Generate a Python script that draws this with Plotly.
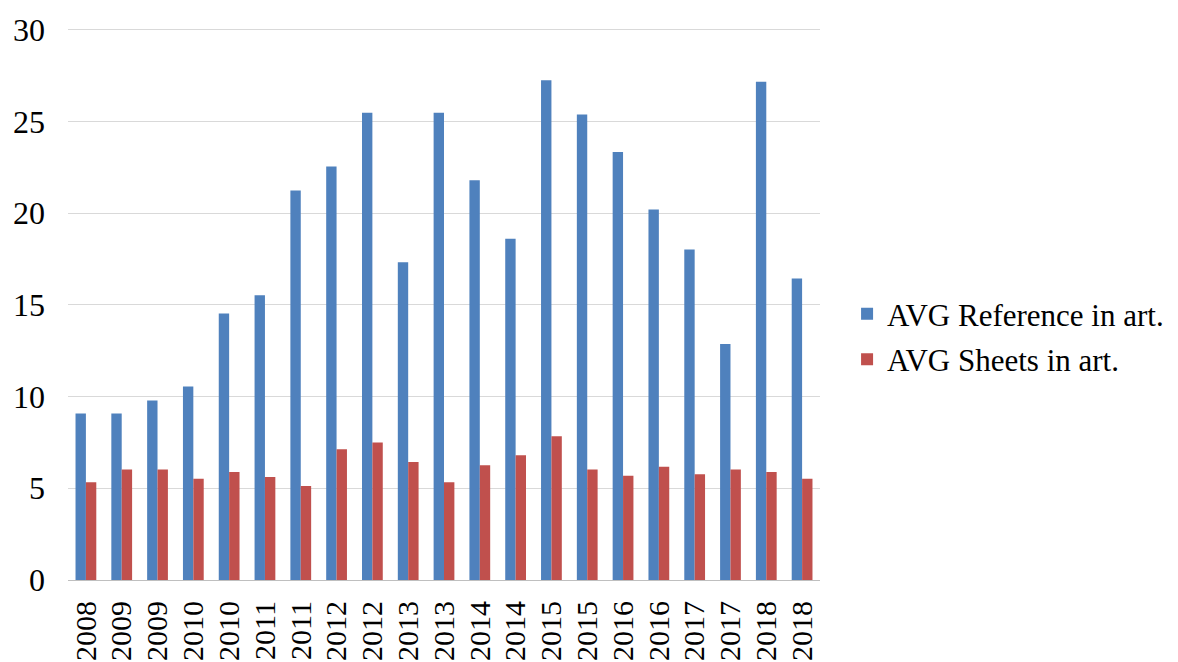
import plotly.graph_objects as go

years = ["2008", "2009", "2009", "2010", "2010", "2011", "2011", "2012", "2012", "2013",
         "2013", "2014", "2014", "2015", "2015", "2016", "2016", "2017", "2017", "2018", "2018"]
avg_reference = [9.08, 9.08, 9.79, 10.55, 14.53, 15.52, 21.24, 22.55, 25.47, 17.33,
                 25.47, 21.79, 18.6, 27.24, 25.38, 23.33, 20.2, 18.02, 12.87, 27.17, 16.44]
avg_sheets = [5.33, 6.02, 6.02, 5.52, 5.89, 5.61, 5.13, 7.13, 7.49, 6.44,
              5.33, 6.25, 6.8, 7.84, 6.02, 5.68, 6.18, 5.77, 6.02, 5.89, 5.52]
y_ticks = [0, 5, 10, 15, 20, 25, 30]

pos = list(range(len(years)))

fig = go.Figure()
fig.add_trace(go.Bar(x=pos, y=avg_reference, name="AVG Reference in art.",
                     marker=dict(color="#4F81BD", line=dict(width=0)), legendgroup="a"))
fig.add_trace(go.Bar(x=pos, y=avg_sheets, name="AVG Sheets in art.",
                     marker=dict(color="#C0504D", line=dict(width=0)), legendgroup="b"))

font_family = "Liberation Serif, Times New Roman, serif"
fig.update_layout(
    width=1170, height=654,
    margin=dict(l=60, r=358, t=19, b=82, autoexpand=False),
    paper_bgcolor="white", plot_bgcolor="white",
    barmode="group", bargap=0.42, bargroupgap=0,
    font=dict(family=font_family, color="black", size=31),
    legend=dict(x=1.036, y=0.44, xanchor="left", yanchor="middle",
                font=dict(size=31, family=font_family), tracegroupgap=2,
                itemsizing="constant"),
    showlegend=True,
)
fig.update_xaxes(
    tickmode="array", tickvals=pos, ticktext=years, tickangle=-90,
    range=[-0.5, len(years) - 0.5], showgrid=False, zeroline=False,
    showline=True, linecolor="#BFBFBF", linewidth=1, ticks="",
    tickfont=dict(size=30, family=font_family), automargin=False,
    ticklabelstandoff=8,
)
fig.update_yaxes(
    range=[0, 30.15], tickvals=y_ticks, showgrid=True, gridcolor="#D9D9D9", gridwidth=1,
    zeroline=False, showline=False, ticks="",
    tickfont=dict(size=32, family=font_family), ticklabelstandoff=22,
    automargin=False,
)
fig.write_html("out.html")
